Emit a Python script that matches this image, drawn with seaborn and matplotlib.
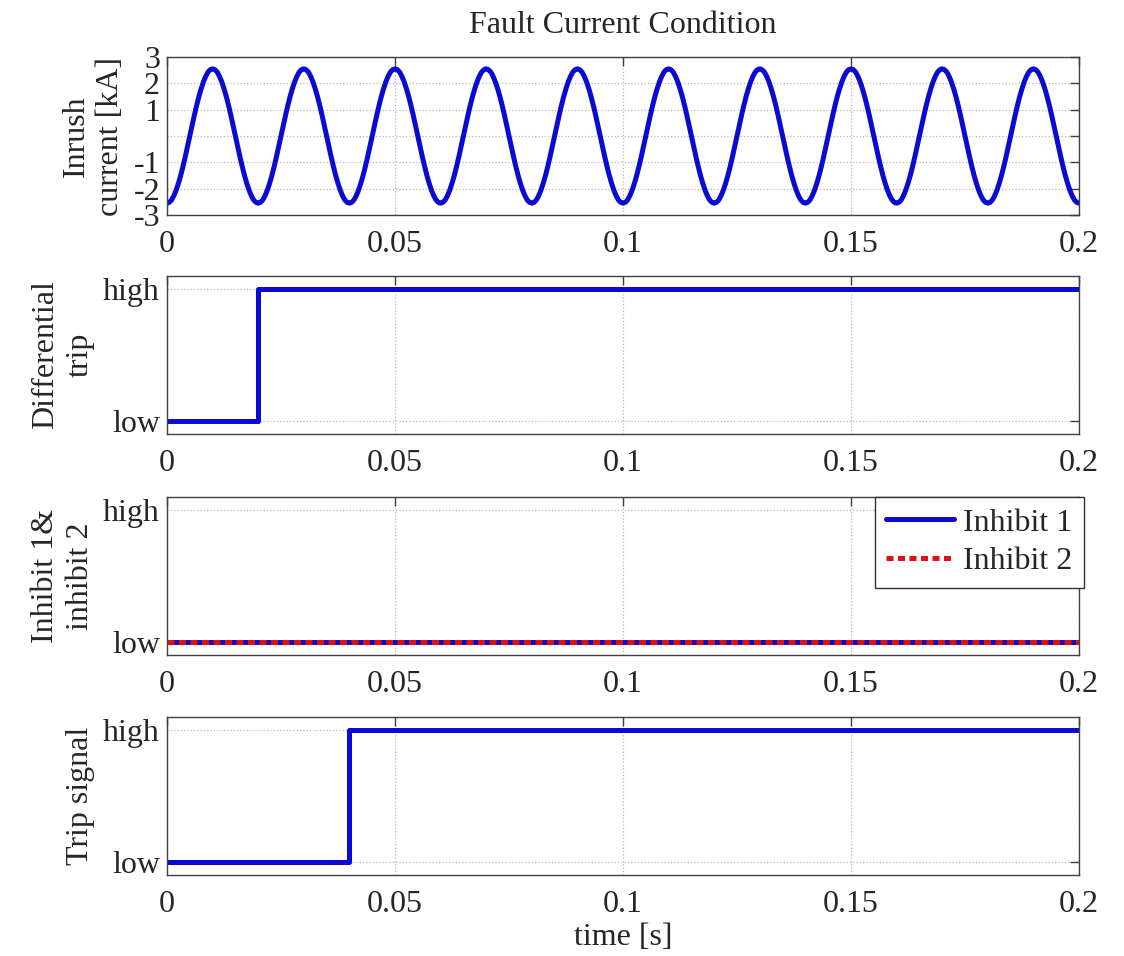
import numpy as np
import pandas as pd
import matplotlib
matplotlib.use("Agg")
import matplotlib.pyplot as plt
import seaborn as sns

cycle_ka = [-2.55, -2.52, -2.43, -2.27, -2.06, -1.80, -1.50, -1.16, -0.79, -0.40,
            0.00, 0.40, 0.79, 1.16, 1.50, 1.80, 2.06, 2.27, 2.43, 2.52,
            2.55, 2.52, 2.43, 2.27, 2.06, 1.80, 1.50, 1.16, 0.79, 0.40,
            0.00, -0.40, -0.79, -1.16, -1.50, -1.80, -2.06, -2.27, -2.43, -2.52]
n_cycles = 10
sample_dt = 0.0005

# logic signals (0 = low, 1 = high)
diff_t = [0.0, 0.02, 0.2]
diff_v = [0, 1, 1]
inh1_t = [0.0, 0.2]
inh1_v = [0, 0]
inh2_t = [0.0, 0.2]
inh2_v = [0, 0]
trip_t = [0.0, 0.04, 0.2]
trip_v = [0, 1, 1]

current_ticks = [-3, -2, -1, 0, 1, 2, 3]
current_labels = ["-3", "-2", "-1", "", "1", "2", "3"]
x_ticks = [0, 0.05, 0.1, 0.15, 0.2]
x_labels = ["0", "0.05", "0.1", "0.15", "0.2"]

current = np.array(cycle_ka * n_cycles + [cycle_ka[0]])
df_cur = pd.DataFrame({"t": np.arange(len(current)) * sample_dt, "i": current})

sns.set_theme(style="white")
plt.rcParams["font.family"] = ["Liberation Serif", "DejaVu Serif"]
plt.rcParams["font.size"] = 23

blue = "#0a0ad2"
red = "#e01010"
lw = 3.6

fig = plt.figure(figsize=(11.24, 9.56), dpi=100)
H = 956.0
left, width = 167 / 1124, 912 / 1124
tops = [57, 276, 497, 717]
ax_h = 158
axes = [fig.add_axes([left, 1 - (tp + ax_h) / H, width, ax_h / H]) for tp in tops]


def style(ax):
    ax.set_xlim(0, 0.2)
    ax.set_xticks(x_ticks)
    ax.set_xticklabels(x_labels)
    ax.grid(True, linestyle=":", color="#b8b8b8", linewidth=0.9)
    ax.tick_params(direction="in", length=6.5, width=1.0, color="#404040",
                   top=True, right=True, labelsize=23)
    ax.tick_params(axis="x", pad=11)
    ax.tick_params(axis="y", pad=5)
    for s in ax.spines.values():
        s.set_color("#404040")
        s.set_linewidth(1.0)
        s.set_visible(True)
    ax.set_xlabel("")


# inrush current
ax = axes[0]
sns.lineplot(data=df_cur, x="t", y="i", ax=ax, color=blue, linewidth=lw,
             sort=False, estimator=None)
style(ax)
ax.set_ylim(-3, 3)
ax.set_yticks(current_ticks)
ax.set_yticklabels(current_labels)
ax.set_ylabel("Inrush\ncurrent [kA]", fontsize=23, labelpad=6, linespacing=1.25)


def logic_axis(ax, label):
    style(ax)
    ax.set_ylim(-0.1, 1.1)
    ax.set_yticks([0, 1])
    ax.set_yticklabels(["low", "high"])
    ax.set_ylabel(label, fontsize=23, labelpad=6, linespacing=1.25)


ax = axes[1]
sns.lineplot(x=diff_t, y=diff_v, ax=ax, color=blue, linewidth=lw,
             drawstyle="steps-post", estimator=None)
logic_axis(ax, "Differential\ntrip")

ax = axes[2]
sns.lineplot(x=inh1_t, y=inh1_v, ax=ax, color=blue, linewidth=lw,
             estimator=None, label="Inhibit 1")
sns.lineplot(x=inh2_t, y=inh2_v, ax=ax, color=red, linewidth=lw,
             estimator=None, label="Inhibit 2", linestyle=(0, (1.4, 0.9)))
logic_axis(ax, "Inhibit 1&\ninhibit 2")
leg = ax.legend(loc="upper right", bbox_to_anchor=(1.005, 1.0), borderaxespad=0,
                fontsize=23, handlelength=2.1, handletextpad=0.3,
                labelspacing=0.3, borderpad=0.35, fancybox=False, framealpha=1)
leg.get_frame().set_edgecolor("#303030")
leg.get_frame().set_linewidth(1.0)

ax = axes[3]
sns.lineplot(x=trip_t, y=trip_v, ax=ax, color=blue, linewidth=lw,
             drawstyle="steps-post", estimator=None)
logic_axis(ax, "Trip signal")
ax.set_xlabel("time [s]", fontsize=23, labelpad=3)

fig.text((167 + 1079) / 2 / 1124, 1 - 33 / H, "Fault Current Condition",
         ha="center", va="baseline", fontsize=23)

fig.savefig("out.png", dpi=100)
